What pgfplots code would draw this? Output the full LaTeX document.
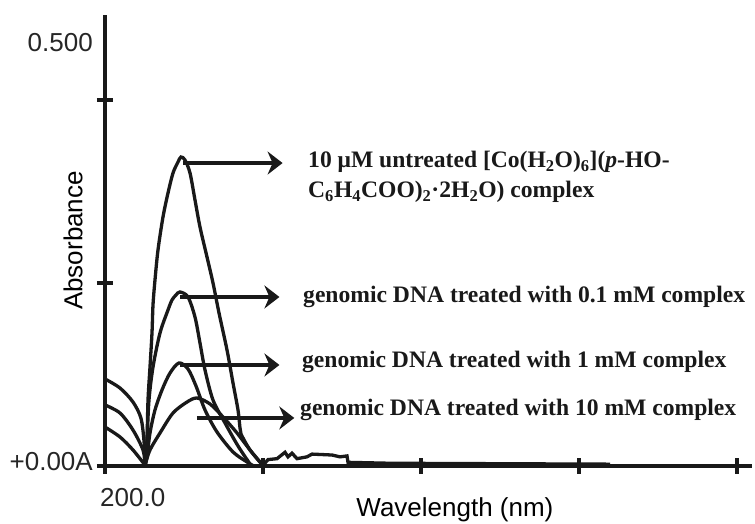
\documentclass[border=0pt]{standalone}
\usepackage{pgfplots}
\pgfplotsset{compat=1.18}
\usepackage{fontspec}
\setmainfont{Liberation Serif}
\newfontfamily\arial{Liberation Sans}
\usetikzlibrary{arrows.meta}
\begin{document}
\begin{tikzpicture}
\useasboundingbox (0,0) rectangle (755pt,524pt);
\begin{axis}[
 at={(105pt,58pt)}, anchor=south west,
 x=3.16pt, y=915pt,
 xmin=200, xmax=404.7, ymin=0, ymax=0.4929,
 axis x line*=bottom, axis y line*=left,
 axis line style={line width=3.2pt, black!90},
 xtick={200,250,300,350,400}, ytick={0,0.2,0.4},
 xticklabels={}, yticklabels={},
 tick align=center, major tick length=16pt,
 tick style={line width=3.2pt, black!90},
 clip=false,
 xlabel={Wavelength (nm)}, ylabel={Absorbance},
 label style={font=\arial\fontsize{26}{30}\selectfont},
 xlabel style={at={(axis description cs:0.541,-0.0973)}, anchor=center},
 ylabel style={at={(axis description cs:-0.0495,0.5)}, anchor=center},
 every axis plot/.append style={line width=3.3pt, black!90},
]
% 10 uM untreated complex
\addplot[smooth] coordinates {
(212.82,0.0011) (213.29,0.0284) (213.61,0.0721) (214.24,0.1082) (214.87,0.1454)
(215.19,0.1760) (215.82,0.2033) (216.77,0.2361) (218.35,0.2721) (219.94,0.2984)
(221.52,0.3202) (223.10,0.3322) (224.05,0.3377) (225.32,0.3344) (226.90,0.3202)
(228.48,0.2907) (230.06,0.2612) (232.28,0.2284) (234.18,0.2000) (236.08,0.1672)
(238.61,0.1268) (240.51,0.0907) (242.09,0.0612) (242.72,0.0415) (243.04,0.0350)
(245.89,0.0175) (250.00,0.0005)};
\addplot[sharp plot] coordinates {
(250.00,0.0005) (251.58,0.007) (254.43,0.008) (256.96,0.015) (257.91,0.010)
(259.18,0.014) (260.76,0.008) (263.92,0.010) (265.51,0.013) (271.84,0.012)
(274.37,0.010) (276.58,0.011) (276.90,0.004) (290.19,0.003) (359.81,0.002)};
% 0.1 mM
\addplot[smooth] coordinates {
(212.66,0.001) (213.29,0.0284) (213.92,0.072) (215.19,0.1082) (217.41,0.1454)
(219.94,0.1705) (221.20,0.1814) (222.47,0.1869) (223.73,0.1902) (226.27,0.1847)
(228.48,0.1628) (230.06,0.1344) (231.65,0.1049) (234.18,0.0721) (237.98,0.0470)
(242.09,0.0219) (245.89,0.0022)};
\addplot[smooth] coordinates {
(200,0.0951) (204.75,0.0852) (208.86,0.0699) (211.4,0.052) (212.4,0.025) (212.66,0.001)};
% 1 mM
\addplot[smooth] coordinates {
(212.66,0.001) (213.29,0.0098) (214.24,0.0361) (215.82,0.0612) (218.04,0.0831)
(220.57,0.1016) (223.42,0.1126) (226.27,0.1060) (228.80,0.0874) (231.65,0.0612)
(235.44,0.0372) (240.51,0.0153) (244.94,0.0044) (246.84,0.0005)};
\addplot[smooth] coordinates {
(200,0.0667) (204.75,0.0579) (208.86,0.0393) (212.03,0.0175) (212.66,0.001)};
% 10 mM
\addplot[smooth] coordinates {
(212.66,0.001) (214.24,0.0175) (217.41,0.0361) (221.52,0.0579) (225.95,0.0699)
(229.11,0.0743) (233.23,0.0678) (237.34,0.0536) (241.77,0.0361) (245.89,0.0175)
(250,0.0005)};
\addplot[smooth] coordinates {
(200,0.0426) (204.75,0.0317) (208.86,0.0175) (212.66,0.001)};
% arrows
\begin{scope}[line width=3.3pt, black!90, -{Stealth[length=15pt, width=23pt, inset=5pt]}]
\draw (axis cs:224.68,0.3311) -- (axis cs:256.2,0.3311);
\draw (axis cs:223.73,0.1847) -- (axis cs:255.2,0.1847);
\draw (axis cs:223.73,0.1104) -- (axis cs:255.2,0.1104);
\draw (axis cs:229.11,0.0525) -- (axis cs:259.9,0.0525);
\end{scope}
% annotation text
\begin{scope}[every node/.style={font=\bfseries\fontsize{23.6}{28}\selectfont, anchor=west, inner sep=0pt, text=black!90}]
\node at (axis cs:264.24,0.3322) {10 μM untreated [Co(H\textsubscript{2}O)\textsubscript{6}](\textit{p}-HO-};
\node at (axis cs:264.24,0.2995) {C\textsubscript{6}H\textsubscript{4}COO)\textsubscript{2}·2H\textsubscript{2}O) complex};
\node at (axis cs:262.66,0.1847) {genomic DNA treated with 0.1 mM complex};
\node at (axis cs:262.34,0.1137) {genomic DNA treated with 1 mM complex};
\node at (axis cs:261.71,0.0612) {genomic DNA treated with 10 mM complex};
\end{scope}
% tick labels
\begin{scope}[every node/.style={font=\arial\fontsize{26}{30}\selectfont, inner sep=0pt, text=black!85}]
\node[anchor=west] at (axis cs:198.42,-0.035) {200.0};
\node[anchor=east] at (axis cs:196.2,0.0044) {+0.00A};
\node[anchor=east] at (axis cs:196.2,0.4623) {0.500};
\end{scope}
\end{axis}
\end{tikzpicture}
\end{document}
